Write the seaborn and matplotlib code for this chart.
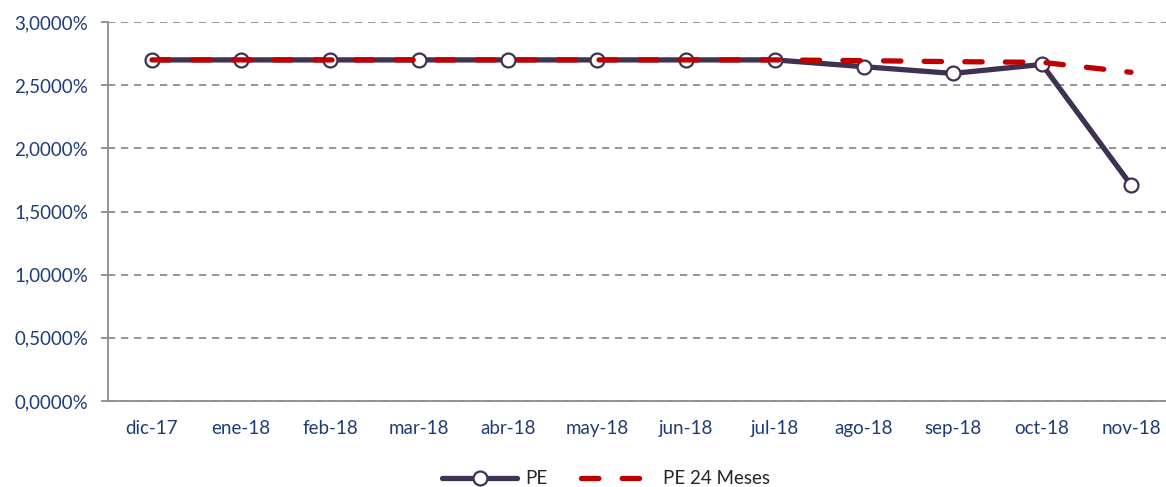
import numpy as np
import pandas as pd
import matplotlib
matplotlib.use("Agg")
import matplotlib.pyplot as plt
import seaborn as sns
from matplotlib.ticker import FuncFormatter

months = ["dic-17", "ene-18", "feb-18", "mar-18", "abr-18", "may-18",
          "jun-18", "jul-18", "ago-18", "sep-18", "oct-18", "nov-18"]
pe = [2.70, 2.70, 2.70, 2.70, 2.70, 2.70, 2.70, 2.70, 2.646, 2.593, 2.664, 1.710]
pe24 = [2.70, 2.70, 2.70, 2.70, 2.70, 2.70, 2.70, 2.70, 2.694, 2.686, 2.681, 2.602]

sns.set_theme(style="white")
plt.rcParams['font.family'] = ['Lato', 'DejaVu Sans']

df = pd.DataFrame({"mes": months, "PE": pe, "PE 24 Meses": pe24})

fig = plt.figure(figsize=(11.66, 4.87), dpi=100)
ax = fig.add_axes([107.5 / 1166, 1 - 401 / 487, (1175.5 - 107.5) / 1166, (401 - 22) / 487])

sns.lineplot(data=df, x="mes", y="PE", sort=False, ax=ax, color="#3F3151",
             linewidth=3.8, marker="o", markersize=10, markerfacecolor="white",
             markeredgecolor="#3F3151", markeredgewidth=1.6, label="PE", zorder=3)
sns.lineplot(data=df, x="mes", y="PE 24 Meses", sort=False, ax=ax, color="#C00000",
             linewidth=3.8, label="PE 24 Meses", zorder=4)
ax.lines[1].set_dashes([3.3, 4.4])
ax.lines[1].set_dash_capstyle("round")

ax.set_xlim(-0.5, 11.5)
ax.set_ylim(0, 3.0)
ax.set_yticks(np.arange(0, 3.01, 0.5))
ax.yaxis.set_major_formatter(FuncFormatter(lambda v, p: f"{v:.4f}%".replace(".", ",")))
ax.set_xlabel("")
ax.set_ylabel("")

ax.grid(axis="y", color="#8C8C8C", linestyle=(0, (4, 3.2)), linewidth=1.3)
ax.grid(axis="x", visible=False)
for s in ["top", "right"]:
    ax.spines[s].set_visible(False)
for s in ["left", "bottom"]:
    ax.spines[s].set_color("#8C8C8C")
    ax.spines[s].set_linewidth(1.3)

ax.set_xticks(np.arange(-0.5, 12, 1), minor=True)
ax.tick_params(axis="x", which="major", length=0, pad=14, labelsize=13.5, labelcolor="#1F3C78")
ax.tick_params(axis="x", which="minor", length=5, width=1.3, color="#8C8C8C", direction="out")
ax.tick_params(axis="y", which="major", length=5, width=1.3, color="#8C8C8C", direction="out",
               left=True, labelsize=13.5, labelcolor="#1F3C78", pad=9)

ax.get_legend().remove()
handles, labels = ax.get_legend_handles_labels()
leg = fig.legend(handles, labels, loc="center", bbox_to_anchor=(0.52, 0.017), ncol=2,
                 frameon=False, fontsize=13.5, handlelength=4.0, columnspacing=1.8,
                 handletextpad=0.4)
for t in leg.get_texts():
    t.set_color("#262626")

fig.savefig("out.png", dpi=100)
